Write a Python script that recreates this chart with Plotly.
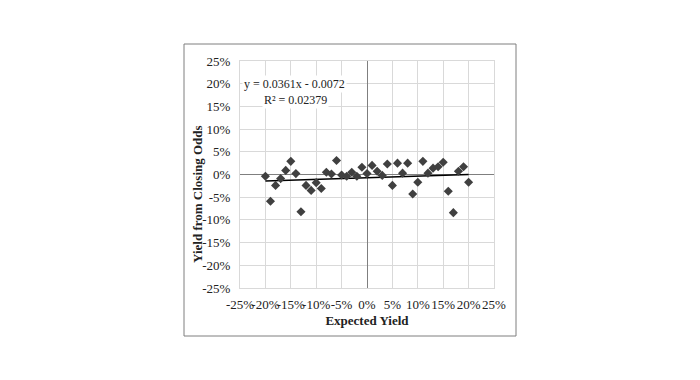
import plotly.graph_objects as go
import numpy as np

# Data
expected_yield = [-0.20, -0.19, -0.18, -0.17, -0.16, -0.15, -0.14, -0.13, -0.12, -0.11,
                  -0.10, -0.09, -0.08, -0.07, -0.06, -0.05, -0.04, -0.03, -0.02, -0.01,
                  0.00, 0.01, 0.02, 0.03, 0.04, 0.05, 0.06, 0.07, 0.08, 0.09,
                  0.10, 0.11, 0.12, 0.13, 0.14, 0.15, 0.16, 0.17, 0.18, 0.19, 0.20]
closing_yield = [-0.004, -0.059, -0.024, -0.009, 0.009, 0.029, 0.002, -0.082, -0.024, -0.035,
                 -0.018, -0.031, 0.005, 0.001, 0.031, -0.001, -0.004, 0.005, -0.004, 0.016,
                 0.002, 0.020, 0.007, -0.002, 0.023, -0.024, 0.025, 0.003, 0.025, -0.043,
                 -0.017, 0.029, 0.003, 0.014, 0.017, 0.027, -0.037, -0.084, 0.007, 0.017, -0.017]
tick_values = [-0.25, -0.20, -0.15, -0.10, -0.05, 0.0, 0.05, 0.10, 0.15, 0.20, 0.25]
tick_labels = ["-25%", "-20%", "-15%", "-10%", "-5%", "0%", "5%", "10%", "15%", "20%", "25%"]
trend_slope = 0.0361
trend_intercept = -0.0072
r_squared = 0.02379

FONT = "Liberation Serif"

xs = np.array([min(expected_yield), max(expected_yield)])
ys = trend_slope * xs + trend_intercept

fig = go.Figure()
fig.add_trace(go.Scatter(x=xs, y=ys, mode="lines",
                         line=dict(color="black", width=1.5), hoverinfo="skip",
                         showlegend=False))
fig.add_trace(go.Scatter(x=expected_yield, y=closing_yield, mode="markers",
                         marker=dict(symbol="diamond", size=7, color="#404040"),
                         showlegend=False))

# page has an 8px body margin, so figure coords = page coords - 8
OFF = 8
L, R, T, B = 240 - OFF, 494 - OFF, 61 - OFF, 288 - OFF
W, H = 700, 380
pw, ph = R - L, B - T

def px(xpage):
    return (xpage - OFF - L) / pw

def py(ypage):
    return (B - (ypage - OFF)) / ph

axis_common = dict(range=[-0.25, 0.25], tickvals=tick_values, ticktext=tick_labels,
                   showgrid=True, gridcolor="#d9d9d9", gridwidth=1,
                   zeroline=True, zerolinecolor="#7f7f7f", zerolinewidth=1.3,
                   showline=True, linecolor="#d9d9d9", mirror=True,
                   ticks="", tickangle=0, automargin=False,
                   tickfont=dict(size=13, family=FONT, color="#222"))

fig.update_layout(
    width=W, height=H,
    margin=dict(l=L, r=W - R, t=T, b=H - B),
    paper_bgcolor="white", plot_bgcolor="white",
    font=dict(family=FONT, size=13, color="#222"),
    xaxis=dict(**axis_common, ticklabelstandoff=4,
               title=dict(text="<b>Expected Yield</b>", font=dict(size=13, family=FONT), standoff=5)),
    yaxis=dict(**axis_common, ticklabelstandoff=6),
    shapes=[dict(type="rect", xref="paper", yref="paper",
                 x0=px(184), x1=px(516), y0=py(336), y1=py(44),
                 line=dict(color="#7f7f7f", width=1), fillcolor="rgba(0,0,0,0)")],
    annotations=[
        dict(xref="paper", yref="paper", x=px(197), y=py(194),
             xanchor="center", yanchor="middle", textangle=-90,
             text="<b>Yield from Closing Odds</b>", showarrow=False,
             font=dict(size=13, family=FONT, color="#222")),
        dict(xref="paper", yref="paper", x=px(294), y=py(84),
             xanchor="center", yanchor="middle",
             text=f"y = {trend_slope}x - {abs(trend_intercept)}", showarrow=False,
             font=dict(size=12, family=FONT, color="#222"), bgcolor="white"),
        dict(xref="paper", yref="paper", x=px(295), y=py(100),
             xanchor="center", yanchor="middle",
             text=f"R² = {r_squared}", showarrow=False,
             font=dict(size=12, family=FONT, color="#222"), bgcolor="white"),
    ],
)

fig.write_html("out.html")
